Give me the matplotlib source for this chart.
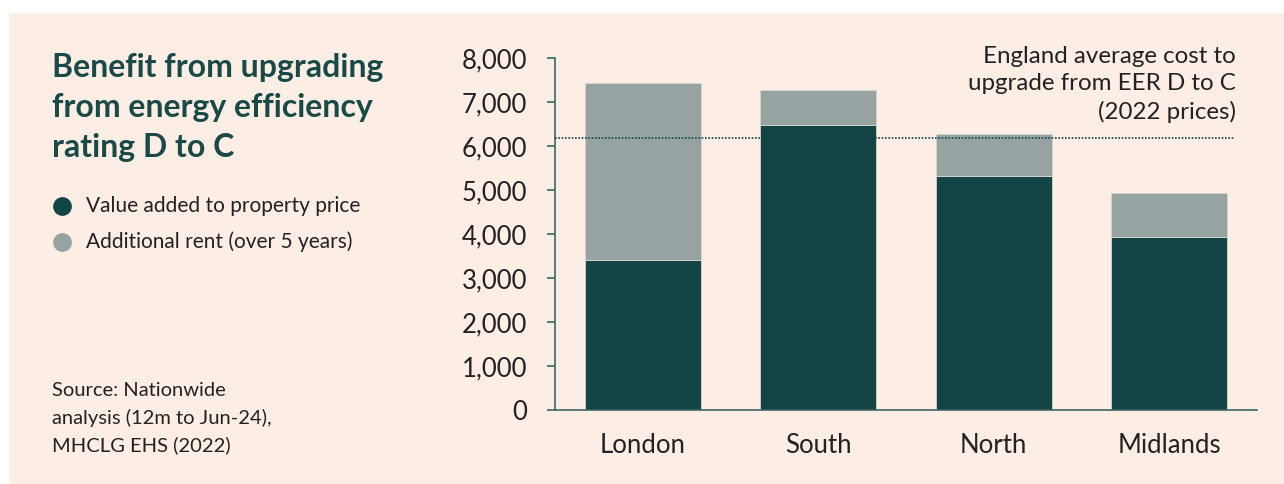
import numpy as np
import matplotlib.pyplot as plt
from matplotlib.patches import Rectangle
from matplotlib.lines import Line2D

# values
regions = ["London", "South", "North", "Midlands"]
value_added = [3420, 6490, 5330, 3940]
extra_rent = [4030, 780, 960, 990]
avg_cost = 6200
yticks = [0, 1000, 2000, 3000, 4000, 5000, 6000, 7000, 8000]

dark = "#134446"
grey = "#97a3a3"
peach = "#fcede5"
ink = "#222222"

plt.rcParams['font.family'] = ['Lato', 'DejaVu Sans']

fig = plt.figure(figsize=(12.84, 4.84), dpi=100, facecolor="white")
W, H = 1284, 484
# peach panel behind everything
fig.patches.append(Rectangle((9 / W, 0), 1 - 9 / W, 1 - 13 / H, transform=fig.transFigure,
                             facecolor=peach, edgecolor="none", zorder=-10))

ax = fig.add_axes([555 / W, 1 - 410.3 / H, (1257 - 555) / W, (410.3 - 58.3) / H])
ax.set_facecolor("none")

x = np.arange(len(regions))
ax.bar(x, value_added, width=0.66, color=dark, edgecolor="#d8d5cf", linewidth=0.6, zorder=2)
ax.bar(x, extra_rent, bottom=value_added, width=0.66, color=grey, edgecolor="#d8d5cf",
       linewidth=0.6, zorder=2)

ax.axhline(avg_cost, xmin=0, xmax=0.969, color=dark, linestyle=(0, (1, 1)), linewidth=1.2, zorder=3)
ax.text(3.38, 6530, "England average cost to\nupgrade from EER D to C\n(2022 prices)",
        ha="right", va="bottom", fontsize=17.4, color=ink, linespacing=1.36)

ax.set_xlim(-0.5, 3.5)
ax.set_ylim(0, 8000)
ax.set_yticks(yticks)
ax.set_yticklabels([f"{v:,}" for v in yticks])
ax.set_xticks(x)
ax.set_xticklabels(regions)
for s in ["top", "right"]:
    ax.spines[s].set_visible(False)
ax.spines["left"].set_color("#3d6665")
ax.spines["bottom"].set_color("#3d6665")
ax.spines["left"].set_linewidth(1.2)
ax.spines["bottom"].set_linewidth(1.2)
ax.tick_params(axis="y", length=6, width=1.2, color="#3d6665", pad=14, labelsize=18.5, labelcolor=ink)
ax.tick_params(axis="x", length=0, pad=16, labelsize=18.5, labelcolor=ink)

# title, legend and source on the left
fig.text(52 / W, 1 - 53 / H, "Benefit from upgrading\nfrom energy efficiency\nrating D to C",
         ha="left", va="top", fontsize=23, fontweight="bold", color="#1a4a48", linespacing=1.45)

for i, (lab, col) in enumerate([("Value added to property price", dark),
                                ("Additional rent (over 5 years)", grey)]):
    yy = 1 - (206 + 36 * i) / H
    fig.add_artist(Line2D([62 / W], [yy], marker="o", markersize=13.5, color=col,
                          markeredgewidth=0, transform=fig.transFigure))
    fig.text(86 / W, yy, lab, ha="left", va="center", fontsize=15, color=ink)

fig.text(52 / W, 1 - 382 / H, "Source: Nationwide\nanalysis (12m to Jun-24),\nMHCLG EHS (2022)",
         ha="left", va="top", fontsize=14.5, color=ink, linespacing=1.65)

fig.savefig("out.png", dpi=100, facecolor="white")
